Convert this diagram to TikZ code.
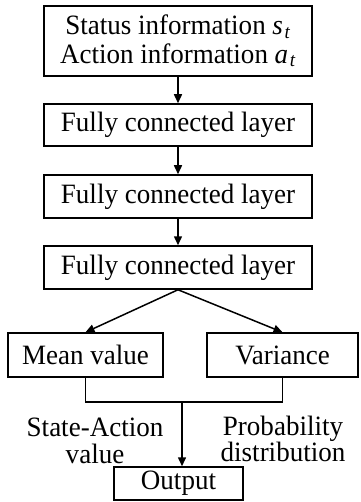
\documentclass[tikz,border=0pt]{standalone}
\usepackage{fontspec}
\setmainfont{Liberation Serif}[FakeStretch=0.965]
\usetikzlibrary{arrows.meta}
\begin{document}
\begin{tikzpicture}[x=1pt,y=-1pt,
  box/.style={draw,line width=1.5pt,inner sep=0pt,align=center,
    font=\fontsize{28}{26.5}\selectfont},
  lbl/.style={inner sep=0pt,align=center,font=\fontsize{28}{26.5}\selectfont},
  arr/.style={line width=1.5pt,-{Triangle[length=9pt,width=8pt]}},
  ln/.style={line width=1.5pt}]
\useasboundingbox (0,0) rectangle (360,502);
\node[box,minimum width=268pt,minimum height=70pt] (in) at (178,41)
  {Status information \textit{s}\kern1.5pt\textsubscript{\textit{t}}\\[2pt]Action information \textit{a}\kern1.5pt\textsubscript{\textit{t}}};
\node[box,minimum width=268pt,minimum height=42pt] (fc1) at (178,125) {Fully connected layer};
\node[box,minimum width=268pt,minimum height=43pt] (fc2) at (178,196.5) {Fully connected layer};
\node[box,minimum width=268pt,minimum height=43pt] (fc3) at (178,267.5) {Fully connected layer};
\node[box,minimum width=155pt,minimum height=44pt] (mean) at (85.5,355) {Mean value};
\node[box,minimum width=151pt,minimum height=44pt] (var) at (282.5,355) {Variance};
\node[box,minimum width=129pt,minimum height=33pt] (out) at (178.5,483.5) {Output};
\node[lbl] (l1) at (95,441) {State-Action\\value};
\node[lbl] (l2) at (283,439) {Probability\\distribution};
\coordinate (j) at (182,402);
\draw[arr] (in.south) -- (fc1.north);
\draw[arr] (fc1.south) -- (fc2.north);
\draw[arr] (fc2.south) -- (fc3.north);
\draw[arr] (fc3.south) -- (mean.north);
\draw[arr] (fc3.south) -- (var.north);
\draw[ln] (mean.south) |- (j) -| (var.south);
\draw[arr] (j) -- (j |- out.north);
\end{tikzpicture}
\end{document}
